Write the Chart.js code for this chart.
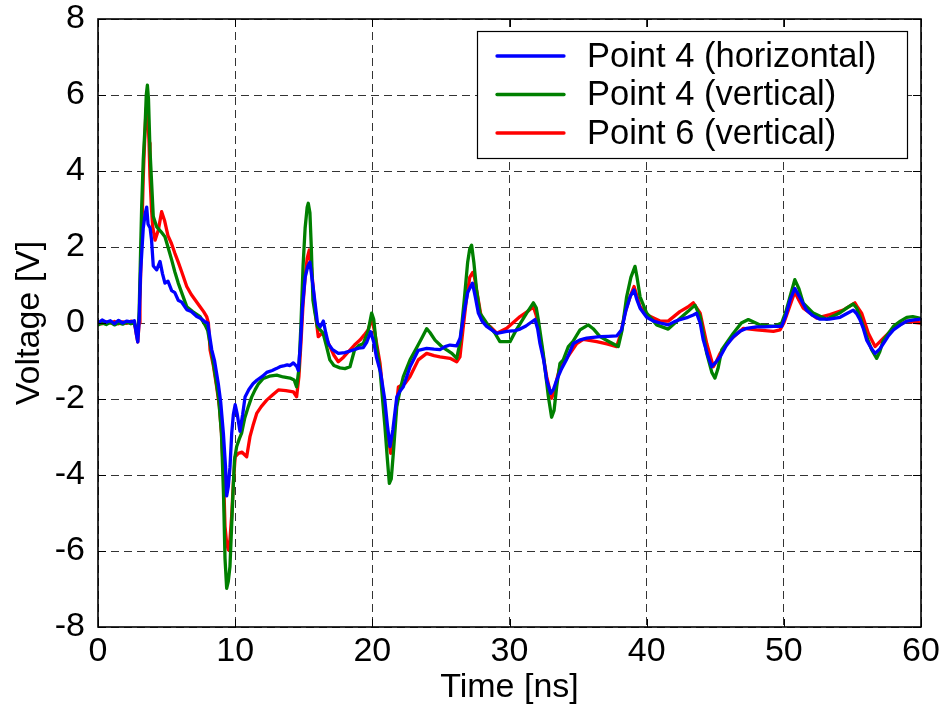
<!DOCTYPE html>
<html><head><meta charset="utf-8">
<script src="https://cdn.jsdelivr.net/npm/chart.js@4.4.1/dist/chart.umd.min.js"></script>
<style>html,body{margin:0;padding:0;background:#fff;}#wrap{width:943px;height:706px;}</style>
</head><body><div id="wrap"><canvas id="c" width="943" height="706"></canvas></div>
<script>
// ---- data (time in ns, voltage in V) ----
const seriesLabels = ['Point 4 (horizontal)', 'Point 4 (vertical)', 'Point 6 (vertical)'];
const seriesColors = ['#0000ff', '#008000', '#ff0000'];
const xTicks = [0, 10, 20, 30, 40, 50, 60];
const yTicks = [-8, -6, -4, -2, 0, 2, 4, 6, 8];

const blueT = [0,0.3,0.6,0.9,1.2,1.5,1.8,2.1,2.4,2.65,2.8,2.9,3.0,3.1,3.3,3.45,3.55,3.65,3.8,3.9,4.03,4.28,4.52,4.7,4.88,5.1,5.37,5.6,5.85,6.1,6.47,6.8,7.2,7.5,7.8,8.0,8.29,8.5,8.77,8.95,9.14,9.3,9.38,9.5,9.62,9.75,9.87,10.0,10.15,10.35,10.55,10.72,11.0,11.3,11.6,12.0,12.3,12.7,13.0,13.27,13.6,13.8,14.0,14.24,14.5,14.6,14.75,14.9,15.1,15.3,15.45,15.7,16.0,16.2,16.43,16.6,16.8,17.1,17.52,18.0,18.6,19.0,19.34,19.6,19.88,20.1,20.3,20.6,20.9,21.1,21.29,21.5,21.78,22.0,22.26,22.75,23.35,23.96,24.5,24.93,25.3,25.66,26.15,26.4,26.7,26.95,27.3,27.5,27.73,28.0,28.33,29.07,29.8,30.4,30.77,31.2,31.5,31.86,32.05,32.22,32.5,32.71,33.0,33.2,33.44,33.8,34.17,34.66,35.1,35.62,36.1,36.6,37.2,37.81,38.17,38.5,38.8,39.08,39.3,39.52,40.0,40.5,41.0,41.57,42.0,42.42,43.0,43.4,43.64,43.9,44.13,44.45,44.74,45.0,45.35,45.8,46.32,46.8,47.29,48.0,48.6,49.24,49.84,50.15,50.45,50.8,51.2,51.65,52.1,52.63,53.3,54.1,54.6,55.06,55.3,55.55,55.8,56.04,56.35,56.65,57.0,57.26,57.6,57.99,58.5,58.96,59.5,60];
const blueV = [0.0,0.08,0.02,0.06,-0.02,0.07,0.0,0.05,0.03,0.06,-0.3,-0.5,0.1,1.3,2.5,2.9,3.05,2.6,2.5,2.2,1.5,1.4,1.62,1.3,1.05,1.1,0.85,0.8,0.6,0.55,0.35,0.3,0.17,0.12,0.03,0.0,-0.7,-1.0,-1.6,-2.1,-2.9,-3.8,-4.55,-4.3,-3.8,-2.9,-2.4,-2.15,-2.4,-2.85,-2.4,-1.95,-1.75,-1.6,-1.5,-1.4,-1.3,-1.25,-1.2,-1.15,-1.12,-1.1,-1.12,-1.05,-1.15,-1.25,-0.6,0.4,1.2,1.5,1.6,0.9,0.0,-0.1,0.05,-0.25,-0.55,-0.7,-0.8,-0.78,-0.71,-0.66,-0.65,-0.5,-0.23,-0.5,-0.9,-1.3,-2.0,-2.7,-3.25,-2.8,-1.95,-1.8,-1.68,-1.15,-0.72,-0.67,-0.69,-0.7,-0.62,-0.58,-0.6,-0.4,0.3,0.8,1.05,0.7,0.26,0.05,-0.09,-0.27,-0.22,-0.2,-0.16,-0.08,0.0,0.09,-0.15,-0.54,-1.0,-1.5,-1.85,-1.75,-1.5,-1.2,-0.95,-0.54,-0.45,-0.4,-0.38,-0.36,-0.35,-0.34,-0.18,0.35,0.7,0.87,0.6,0.39,0.15,0.05,0.0,-0.05,0.03,0.09,0.15,0.21,0.26,0.0,-0.45,-0.85,-1.15,-1.05,-0.89,-0.6,-0.36,-0.22,-0.14,-0.1,-0.1,-0.09,-0.09,0.2,0.6,0.91,0.65,0.34,0.2,0.1,0.1,0.15,0.25,0.34,0.25,0.09,-0.15,-0.45,-0.65,-0.8,-0.68,-0.54,-0.35,-0.18,-0.05,0.05,0.08,0.1];

const greenT = [0,0.3,0.6,0.9,1.2,1.5,1.8,2.1,2.4,2.65,2.8,2.9,3.0,3.1,3.18,3.3,3.43,3.52,3.6,3.68,3.79,3.91,4.03,4.28,4.6,4.88,5.1,5.37,5.6,5.85,6.1,6.47,6.9,7.44,7.8,8.0,8.3,8.6,8.8,9.0,9.15,9.26,9.38,9.5,9.62,9.82,9.95,10.11,10.3,10.47,10.7,10.96,11.2,11.45,11.7,12.05,12.5,13.03,13.5,14.0,14.3,14.48,14.65,14.8,14.95,15.1,15.25,15.33,15.45,15.55,15.67,15.8,16.0,16.4,16.65,16.9,17.2,17.64,18.0,18.37,18.7,19.0,19.34,19.7,19.95,20.1,20.3,20.56,20.92,21.1,21.24,21.38,21.53,21.78,22.0,22.26,22.75,23.23,23.6,23.96,24.2,24.57,25.0,25.42,25.8,26.15,26.4,26.7,26.95,27.1,27.24,27.4,27.6,27.85,28.33,28.94,29.3,30.04,30.5,31.25,31.74,31.95,32.1,32.46,32.83,33.07,33.25,33.44,33.68,33.92,34.29,34.6,35.14,35.74,36.1,36.6,37.3,37.93,38.2,38.54,38.85,39.15,39.3,39.52,40.0,40.73,41.57,42.42,43.0,43.52,43.9,44.38,44.75,44.98,45.2,45.47,46.32,46.9,47.41,48.27,49.24,49.84,50.15,50.45,50.8,51.1,51.42,52.14,53.12,54.1,54.6,55.06,55.3,55.55,56.04,56.4,56.77,57.0,57.26,57.99,58.5,58.96,59.4,60];
const greenV = [-0.05,0.0,-0.04,0.02,-0.05,0.0,-0.03,0.02,-0.02,0.0,-0.2,-0.3,0.3,1.8,3.0,4.3,5.17,6.0,6.26,5.9,4.55,3.68,2.8,2.53,2.4,2.27,2.0,1.66,1.35,1.05,0.8,0.43,0.3,0.17,-0.05,-0.2,-0.8,-1.5,-2.0,-2.9,-4.5,-6.2,-6.98,-6.8,-6.41,-4.66,-3.6,-3.25,-3.05,-2.9,-2.5,-2.2,-1.95,-1.76,-1.6,-1.46,-1.4,-1.37,-1.42,-1.45,-1.5,-1.68,-1.2,0.0,1.5,2.5,3.05,3.15,2.9,2.0,0.6,0.3,-0.1,-0.26,-0.6,-0.97,-1.12,-1.18,-1.2,-1.15,-0.71,-0.6,-0.54,-0.2,0.26,0.1,-0.6,-1.24,-2.73,-3.6,-4.22,-4.1,-3.43,-2.2,-1.8,-1.41,-0.97,-0.65,-0.4,-0.15,-0.25,-0.45,-0.6,-0.71,-0.8,-0.93,-0.5,0.6,1.6,1.95,2.05,1.6,0.87,0.26,0.0,-0.27,-0.49,-0.49,-0.18,0.26,0.53,0.4,0.09,-0.8,-1.93,-2.48,-2.3,-1.67,-1.06,-0.97,-0.62,-0.5,-0.18,-0.05,-0.15,-0.36,-0.5,-0.62,-0.2,0.69,1.2,1.49,1.2,0.69,0.26,-0.05,-0.16,0.12,0.3,0.47,0.17,-0.8,-1.3,-1.45,-1.2,-0.71,-0.27,0.0,0.09,-0.05,-0.09,0.0,0.3,0.69,1.14,0.9,0.52,0.26,0.1,0.27,0.4,0.5,0.4,0.17,-0.36,-0.7,-0.93,-0.75,-0.45,-0.09,0.05,0.15,0.17,0.12];

const redT = [0,0.3,0.6,0.9,1.2,1.5,1.8,2.1,2.4,2.65,2.8,2.9,3.0,3.06,3.18,3.3,3.4,3.5,3.6,3.72,3.79,3.9,3.99,4.16,4.4,4.64,4.85,5.1,5.35,5.6,5.85,6.1,6.47,6.8,7.1,7.44,7.7,7.92,8.05,8.17,8.4,8.65,8.85,9.0,9.15,9.26,9.38,9.5,9.62,9.74,9.87,10.0,10.23,10.5,10.84,11.08,11.3,11.57,11.9,12.3,12.7,13.15,13.7,14.24,14.48,14.65,14.8,14.95,15.1,15.25,15.4,15.55,15.7,15.9,16.06,16.3,16.55,16.91,17.2,17.52,17.9,18.37,18.7,19.1,19.4,19.7,19.95,20.15,20.56,20.92,21.15,21.34,21.5,21.65,21.9,22.38,22.75,23.35,23.96,24.5,24.93,25.66,26.15,26.39,26.6,26.85,27.1,27.32,27.45,27.6,27.97,28.58,29.07,29.8,30.77,31.3,31.74,31.95,32.22,32.71,33.07,33.25,33.44,33.68,34.17,34.9,35.38,36.36,37.1,37.81,38.1,38.42,38.8,39.08,39.3,39.52,40.0,40.97,41.57,42.42,43.0,43.4,43.9,44.38,44.86,45.1,45.35,46.08,47.05,48.02,49.24,49.72,50.0,50.33,50.8,51.1,51.42,52.4,53.36,54.33,55.18,55.4,55.67,56.16,56.65,57.26,57.99,58.96,59.5,60];
const redV = [0.0,-0.02,0.03,0.0,0.04,-0.02,0.03,-0.01,0.05,0.02,-0.3,-0.5,0.0,0.6,2.2,3.85,4.8,5.6,5.8,4.74,3.85,3.0,2.53,2.18,2.45,2.93,2.7,2.3,2.1,1.84,1.6,1.35,0.96,0.75,0.6,0.43,0.3,0.17,0.0,-0.71,-1.1,-1.68,-2.2,-2.9,-4.0,-5.35,-5.8,-5.97,-5.7,-5.1,-4.2,-3.52,-3.43,-3.4,-3.52,-2.99,-2.7,-2.38,-2.2,-2.03,-1.9,-1.76,-1.78,-1.81,-1.94,-1.4,-0.5,0.5,1.2,1.7,1.92,1.5,0.87,0.1,-0.36,-0.28,-0.32,-0.62,-0.85,-1.02,-0.9,-0.71,-0.58,-0.45,-0.32,-0.18,0.12,-0.2,-1.06,-2.37,-3.0,-3.43,-3.1,-2.55,-1.68,-1.59,-1.41,-0.97,-0.8,-0.86,-0.89,-0.93,-1.02,-0.89,-0.2,0.6,1.2,1.33,1.2,0.87,0.09,-0.09,-0.27,-0.14,0.17,0.3,0.43,0.2,-0.36,-1.41,-1.98,-1.8,-1.5,-1.15,-0.93,-0.54,-0.43,-0.49,-0.55,-0.62,-0.3,0.26,0.7,0.96,0.7,0.43,0.22,0.05,0.05,0.3,0.42,0.53,0.26,-0.54,-1.15,-1.0,-0.8,-0.45,-0.14,-0.18,-0.22,-0.18,0.0,0.34,0.82,0.6,0.39,0.13,0.22,0.34,0.53,0.4,0.26,-0.27,-0.62,-0.4,-0.14,0.05,0.02,0.0];

function pts(t, v) { return t.map((x, i) => ({ x: x, y: v[i] })); }

const FONT = "'Liberation Sans', Arial, sans-serif";

const framePlugin = {
  id: 'frameTicksLegend',
  afterDatasetsDraw(chart) {
    const ctx = chart.ctx, ca = chart.chartArea;
    const xs = chart.scales.x, ys = chart.scales.y;
    ctx.save();
    ctx.setLineDash([]);
    ctx.strokeStyle = '#000';
    ctx.lineWidth = 1;
    // inside tick marks
    ctx.beginPath();
    xTicks.forEach(v => {
      const px = Math.round(xs.getPixelForValue(v)) + 0.5;
      ctx.moveTo(px, ca.bottom); ctx.lineTo(px, ca.bottom - 8);
      ctx.moveTo(px, ca.top); ctx.lineTo(px, ca.top + 8);
    });
    yTicks.forEach(v => {
      const py = Math.round(ys.getPixelForValue(v)) + 0.5;
      ctx.moveTo(ca.left, py); ctx.lineTo(ca.left + 8, py);
      ctx.moveTo(ca.right, py); ctx.lineTo(ca.right - 8, py);
    });
    ctx.stroke();
    // frame
    ctx.lineWidth = 1.6;
    ctx.strokeRect(ca.left, ca.top, ca.right - ca.left, ca.bottom - ca.top);
    // legend box
    const bw = 430, bh = 127;
    const bx = ca.right - 14 - bw, by = ca.top + 12;
    ctx.fillStyle = '#fff';
    ctx.fillRect(bx, by, bw, bh);
    ctx.lineWidth = 1.2;
    ctx.strokeRect(bx + 0.5, by + 0.5, bw, bh);
    ctx.font = '34.5px ' + FONT;
    ctx.textBaseline = 'middle';
    ctx.textAlign = 'left';
    chart.data.datasets.forEach((ds, i) => {
      const ry = by + 25 + i * 38.5;
      ctx.strokeStyle = ds.borderColor;
      ctx.lineWidth = 3.3;
      ctx.lineCap = 'round';
      ctx.beginPath(); ctx.moveTo(bx + 20, ry); ctx.lineTo(bx + 87, ry); ctx.stroke();
      ctx.fillStyle = '#000';
      ctx.fillText(ds.label, bx + 110, ry + 1);
    });
    ctx.restore();
  }
};

const datasets = [
  { label: seriesLabels[0], data: pts(blueT, blueV), borderColor: seriesColors[0] },
  { label: seriesLabels[1], data: pts(greenT, greenV), borderColor: seriesColors[1] },
  { label: seriesLabels[2], data: pts(redT, redV), borderColor: seriesColors[2] }
].map(d => Object.assign(d, { borderWidth: 3.3, pointRadius: 0, tension: 0, fill: false, borderJoinStyle: 'round', borderCapStyle: 'round' }));

new Chart(document.getElementById('c'), {
  type: 'line',
  data: { datasets: datasets },
  options: {
    responsive: false,
    animation: false,
    devicePixelRatio: 1,
    layout: { padding: { left: 0, top: 19, right: 22, bottom: 0 } },
    plugins: { legend: { display: false }, tooltip: { enabled: false } },
    scales: {
      x: {
        type: 'linear', min: 0, max: 60,
        afterFit(s) { s.height = 79; s.paddingLeft = 0; s.paddingRight = 0; },
        afterBuildTicks(s) { s.ticks = xTicks.map(v => ({ value: v })); },
        ticks: { color: '#000', padding: 4, font: { family: FONT, size: 34 }, maxRotation: 0 },
        grid: { color: '#333', lineWidth: 1, drawTicks: false },
        border: { display: false, dash: [8, 5] },
        title: { display: true, text: 'Time [ns]', color: '#000', font: { family: FONT, size: 34, lineHeight: 1 }, padding: { top: 0, bottom: 1 } }
      },
      y: {
        type: 'linear', min: -8, max: 8,
        afterFit(s) { s.width = 98; s.paddingTop = 0; s.paddingBottom = 0; },
        afterBuildTicks(s) { s.ticks = yTicks.map(v => ({ value: v })); },
        ticks: { color: '#000', padding: 13, font: { family: FONT, size: 34 } },
        grid: { color: '#333', lineWidth: 1, drawTicks: false },
        border: { display: false, dash: [8, 5] },
        title: { display: true, text: 'Voltage [V]', color: '#000', font: { family: FONT, size: 34, lineHeight: 1 }, padding: { top: 13, bottom: 0 } }
      }
    }
  },
  plugins: [framePlugin]
});
</script>
</body></html>
